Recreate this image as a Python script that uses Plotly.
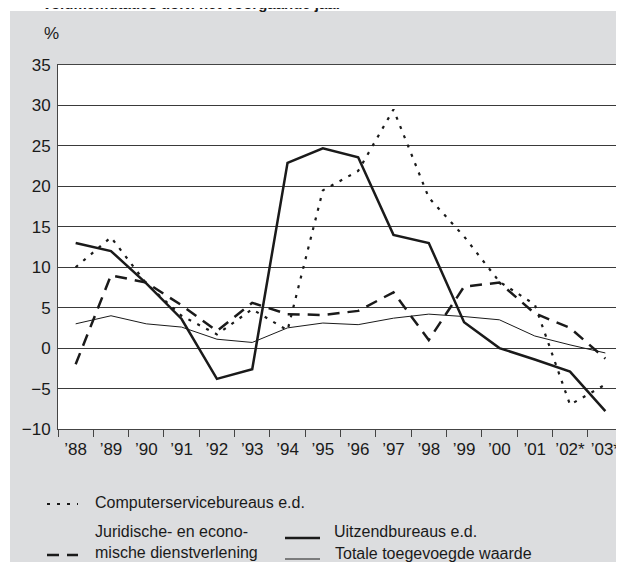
import plotly.graph_objects as go

#----------------------------------------------------------------------------
# data (volume changes, % vs previous year)
YEARS = ['\u201988', '\u201989', '\u201990', '\u201991', '\u201992', '\u201993', '\u201994', '\u201995',
         '\u201996', '\u201997', '\u201998', '\u201999', '\u201900', '\u201901', '\u201902*', '\u201903*']

COMPUTER = [10, 13.7, 8, 4, 1.7, 4.8, 2.2, 19.5, 21.9, 29.5, 18.6, 13.8, 8.2, 5.4, -7, -4.5]
JURIDISCH = [-2, 9, 8.1, 5.3, 2.1, 5.6, 4.2, 4.1, 4.6, 6.9, 1, 7.6, 8.1, 4.3, 2.5, -1.3]
UITZEND = [13, 12, 8, 3.6, -3.8, -2.6, 22.9, 24.7, 23.6, 14, 13, 3.2, 0, -1.4, -2.9, -7.8]
TOTAAL = [3, 4, 3, 2.6, 1.1, 0.7, 2.5, 3.1, 2.9, 3.7, 4.2, 3.9, 3.5, 1.5, 0.4, -0.6]

TITLE = 'Volumemutaties t.o.v. het voorgaande jaar'
LEGEND_NAMES = ['Computerservicebureaus e.d.',
                'Juridische- en econo-<br>mische dienstverlening',
                'Uitzendbureaus e.d.',
                'Totale toegevoegde waarde']

FONT = 'Liberation Sans, Arial, sans-serif'
INK = '#1a1a1a'
GREY = '#dcdddf'

#----------------------------------------------------------------------------
# layout in page pixels; the browser puts the figure 8px in from the top left
OFF = 8
W, H = 624 - OFF, 562 - OFF
L, R, T, B = 58, 623, 65, 429   # plot area on the page


def px_x(px):
    return (px - L) / (R - L)


def px_y(py):
    return (B - py) / (B - T)


fig = go.Figure()

fig.add_trace(go.Scatter(x=YEARS, y=TOTAAL, mode='lines',
                         line=dict(color=INK, width=1)))
fig.add_trace(go.Scatter(x=YEARS, y=JURIDISCH, mode='lines',
                         line=dict(color=INK, width=2.5, dash='12px,8px')))
fig.add_trace(go.Scatter(x=YEARS, y=COMPUTER, mode='lines',
                         line=dict(color=INK, width=2.2, dash='3px,7px')))
fig.add_trace(go.Scatter(x=YEARS, y=UITZEND, mode='lines',
                         line=dict(color=INK, width=2.5)))

# thin white strips above and left of the grey panel
fig.add_shape(type='rect', xref='paper', yref='paper', layer='below',
              x0=px_x(0), x1=px_x(630), y0=px_y(11), y1=px_y(0),
              line_width=0, fillcolor='white')
fig.add_shape(type='rect', xref='paper', yref='paper', layer='below',
              x0=px_x(0), x1=px_x(10), y0=px_y(570), y1=px_y(0),
              line_width=0, fillcolor='white')

# title, mostly cut off by the top of the page
fig.add_annotation(text='<b>' + TITLE + '</b>', xref='paper', yref='paper',
                   x=px_x(40), y=px_y(4), xanchor='left', yanchor='middle',
                   showarrow=False, font=dict(size=15, color=INK, family=FONT))

# % unit label
fig.add_annotation(text='%', xref='paper', yref='paper',
                   x=px_x(51), y=px_y(33), xanchor='center', yanchor='middle',
                   showarrow=False, font=dict(size=17, color=INK, family=FONT))

# hand-made legend below the chart
legend_rows = [
    # dash, width, sample x0, x1, sample y, text x, text y, label
    ('3px,7px', 2.2, 47, 78, 504, 93, 502, LEGEND_NAMES[0]),
    ('12px,8px', 2.5, 47, 78, 555, 93, 542, LEGEND_NAMES[1]),
    ('solid', 2.5, 285, 320, 538, 332, 531, LEGEND_NAMES[2]),
    ('solid', 1, 285, 320, 559, 333, 553, LEGEND_NAMES[3]),
]
for dash, width, sx0, sx1, sy, tx, ty, name in legend_rows:
    fig.add_shape(type='line', xref='paper', yref='paper',
                  x0=px_x(sx0), x1=px_x(sx1), y0=px_y(sy), y1=px_y(sy),
                  line=dict(color=INK, width=width, dash=dash))
    fig.add_annotation(text=name, xref='paper', yref='paper',
                       x=px_x(tx), y=px_y(ty), xanchor='left', yanchor='middle',
                       align='left', showarrow=False,
                       font=dict(size=16, color=INK, family=FONT))

# category axis: half a category of room at each end, ticks between years
fig.update_xaxes(type='category', range=[-0.5, len(YEARS) - 0.5],
                 tickson='boundaries', ticks='outside',
                 ticklen=7, tickcolor='#444', showgrid=False, tickangle=0,
                 showline=True, linecolor='#444', linewidth=1, mirror=True,
                 automargin=False, ticklabelstandoff=5,
                 tickfont=dict(size=17, color=INK, family=FONT))
fig.update_yaxes(range=[-10, 35], dtick=5, ticks='', showgrid=True,
                 gridcolor='#3a3a3a', gridwidth=1, zeroline=False,
                 showline=True, linecolor='#444', linewidth=1, mirror=True,
                 ticklabelstandoff=3, automargin=False,
                 tickfont=dict(size=17, color=INK, family=FONT))

fig.update_layout(
    width=W, height=H,
    margin=dict(l=L - OFF, r=W - (R - OFF), t=T - OFF, b=H - (B - OFF)),
    paper_bgcolor=GREY,
    plot_bgcolor='white',
    showlegend=False,
    font=dict(family=FONT, color=INK),
)

fig.write_html('out.html')
